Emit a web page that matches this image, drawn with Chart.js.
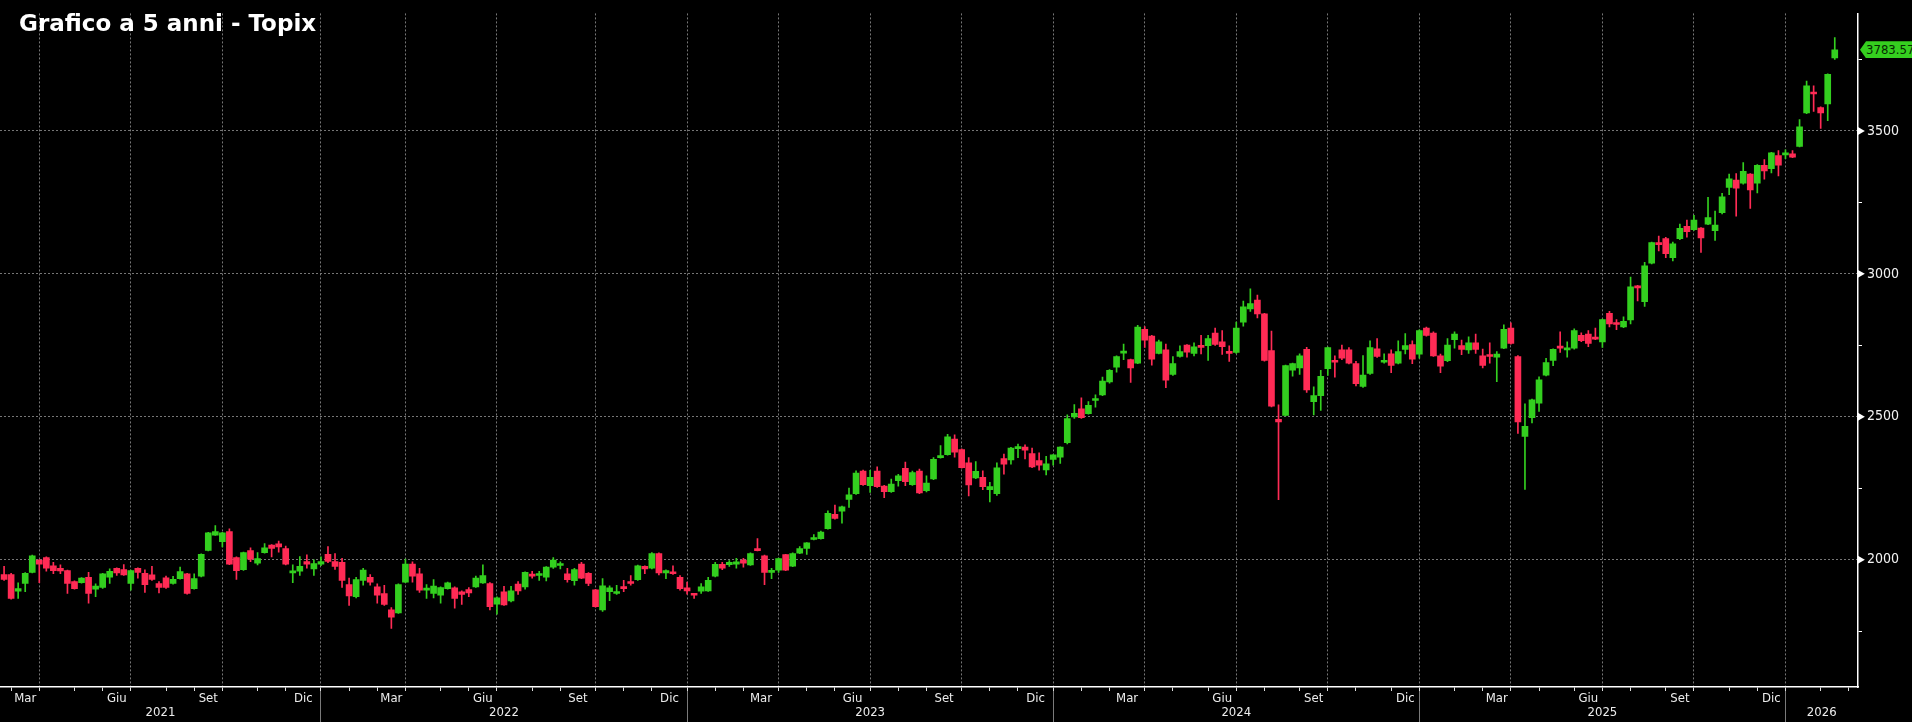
<!DOCTYPE html>
<html>
<head>
<meta charset="utf-8">
<script src="https://cdn.jsdelivr.net/npm/chart.js@4.4.1/dist/chart.umd.min.js"></script>
<style>
  html, body { margin: 0; padding: 0; background: #000; }
  #wrap { position: relative; width: 1912px; height: 722px; overflow: hidden; background: #000; }
  #c { position: absolute; left: 0; top: 0; }
  #title { position: absolute; left: 19px; top: 12px; font: bold 23px 'DejaVu Sans', Verdana, sans-serif; line-height: 23px; color: #fff; white-space: nowrap; }
  #last { position: absolute; left: 1860px; height: 17px; padding-left: 6px; padding-right: 6px; background: #35cf1f; color: #062a02;
          font: 13px 'DejaVu Sans Condensed', 'Liberation Sans Narrow', sans-serif; line-height: 17px; white-space: nowrap;
          clip-path: polygon(0 50%, 6px 0, 100% 0, 100% 100%, 6px 100%); }
</style>
</head>
<body>
<div id="wrap">
  <canvas id="c" width="1912" height="722"></canvas>
  <div id="title">Grafico a 5 anni - Topix</div>
  <div id="last"></div>
</div>
<script>
// ---------- DATA (weekly candles, Topix, week ending Friday from 19 Feb 2021) ----------
const firstWeekEnding = '2021-02-19';

const opens = [
1948,1948,1890,1917,1956,1999,2008,1979,1970,1962,
1924,1920,1939,1897,1903,1939,1970,1966,1917,1970,
1953,1947,1917,1937,1917,1934,1951,1899,1943,2033,
2086,2063,2099,2008,1965,2032,1988,2025,2051,2056,
2039,1954,1960,1994,1968,1985,2019,1994,1991,1913,
1871,1928,1939,1905,1882,1825,1814,1922,1985,1951,
1894,1882,1876,1899,1902,1888,1896,1905,1919,1917,
1845,1888,1856,1915,1905,1948,1945,1939,1974,1980,
1951,1927,1985,1953,1895,1825,1888,1882,1906,1920,
1930,1977,1971,2022,1954,1953,1939,1902,1882,1890,
1891,1943,1984,1983,1985,1999,1982,2034,2014,1956,
1964,2018,1978,2023,2040,2071,2074,2109,2159,2170,
2211,2231,2310,2259,2310,2258,2238,2277,2320,2263,
2310,2242,2283,2357,2368,2422,2385,2339,2286,2288,
2245,2231,2354,2349,2389,2394,2371,2347,2314,2351,
2359,2410,2500,2528,2511,2557,2577,2622,2674,2723,
2700,2688,2806,2782,2722,2734,2648,2711,2751,2722,
2748,2749,2793,2762,2725,2725,2831,2877,2908,2860,
2732,2491,2505,2663,2671,2736,2553,2574,2668,2696,
2734,2734,2686,2606,2652,2738,2691,2720,2688,2736,
2753,2719,2810,2793,2713,2696,2770,2749,2734,2759,
2713,2713,2709,2740,2810,2711,2431,2497,2548,2646,
2697,2745,2734,2740,2785,2789,2776,2762,2862,2829,
2814,2839,2956,2903,3037,3109,3123,3057,3123,3166,
3155,3160,3174,3151,3214,3302,3328,3317,3349,3317,
3380,3368,3414,3416,3420,3446,3563,3634,3582,3594,
3755
];

const highs = [
1977,1953,1919,1955,2016,2001,2010,1991,1982,1964,
1926,1938,1956,1916,1953,1968,1972,1983,1964,1972,
1965,1977,1924,1943,1942,1974,1953,1951,2021,2096,
2120,2096,2108,2010,2027,2042,2025,2057,2053,2065,
2048,1982,2011,2017,2000,2010,2046,2022,2005,1936,
1939,1970,1948,1916,1911,1833,1916,2002,1993,1970,
1913,1931,1905,1922,1905,1891,1903,1943,1982,1920,
1870,1907,1907,1924,1958,1960,1960,1976,2008,1993,
1970,1970,1991,1955,1897,1934,1909,1911,1928,1945,
1981,1979,2025,2024,1965,1979,1945,1922,1883,1917,
1939,1991,1991,1997,2005,2005,2024,2074,2016,1970,
2006,2019,2024,2046,2060,2088,2100,2171,2191,2188,
2251,2311,2314,2313,2325,2260,2282,2299,2342,2310,
2317,2294,2357,2399,2439,2437,2388,2357,2343,2311,
2271,2339,2370,2393,2405,2402,2391,2374,2362,2368,
2395,2507,2543,2566,2553,2577,2639,2665,2713,2754,
2702,2820,2816,2785,2768,2754,2711,2748,2753,2759,
2785,2785,2810,2802,2748,2831,2905,2948,2926,2862,
2800,2542,2681,2688,2720,2743,2605,2663,2744,2713,
2751,2742,2694,2714,2766,2774,2720,2734,2766,2791,
2766,2804,2814,2797,2719,2774,2797,2768,2780,2789,
2737,2759,2728,2822,2829,2714,2545,2562,2640,2705,
2738,2797,2762,2808,2794,2802,2810,2842,2869,2840,
2850,2989,2960,3040,3111,3132,3128,3111,3174,3188,
3205,3162,3268,3220,3282,3349,3351,3389,3351,3382,
3400,3425,3431,3434,3431,3540,3674,3658,3584,3700,
3826
];

const lows = [
1928,1862,1865,1888,1954,1920,1960,1951,1951,1882,
1897,1918,1848,1871,1900,1917,1945,1945,1894,1936,
1886,1928,1884,1900,1915,1932,1880,1897,1940,2031,
2085,2045,1983,1931,1963,1993,1982,2023,2010,2027,
1982,1920,1945,1971,1945,1979,1990,1966,1903,1840,
1867,1911,1911,1848,1840,1760,1812,1920,1922,1886,
1865,1867,1848,1897,1831,1844,1871,1903,1917,1825,
1810,1840,1853,1879,1897,1936,1928,1926,1970,1968,
1922,1911,1934,1909,1834,1819,1857,1879,1888,1911,
1928,1951,1968,1947,1934,1949,1894,1880,1865,1882,
1889,1940,1965,1977,1971,1974,1980,2031,1913,1934,
1956,1962,1976,2021,2019,2069,2072,2107,2142,2128,
2183,2229,2260,2236,2253,2217,2236,2257,2259,2260,
2231,2237,2280,2355,2366,2359,2320,2223,2284,2245,
2202,2225,2299,2334,2357,2353,2322,2313,2297,2331,
2337,2405,2494,2494,2509,2534,2574,2618,2656,2700,
2620,2686,2743,2681,2720,2602,2645,2709,2709,2713,
2720,2697,2750,2718,2694,2722,2817,2869,2846,2695,
2535,2210,2503,2642,2648,2585,2507,2522,2645,2639,
2700,2685,2608,2603,2648,2708,2688,2654,2685,2720,
2686,2705,2782,2711,2654,2693,2740,2717,2722,2722,
2671,2688,2623,2738,2754,2442,2246,2479,2519,2643,
2679,2725,2709,2737,2763,2745,2770,2743,2814,2805,
2812,2825,2905,2886,3035,3080,3057,3045,3120,3128,
3152,3075,3172,3117,3210,3277,3202,3314,3229,3283,
3331,3353,3343,3403,3406,3444,3560,3568,3509,3536,
3750
];

const closes = [
1931,1865,1899,1953,2014,1985,1971,1962,1961,1917,
1899,1936,1882,1908,1951,1960,1954,1947,1962,1956,
1913,1931,1903,1903,1932,1959,1882,1934,2019,2094,
2099,2094,1985,1962,2025,2002,2004,2042,2040,2045,
1985,1958,1977,1985,1987,1994,1994,1977,1928,1874,
1931,1964,1922,1876,1844,1799,1913,1985,1943,1894,
1897,1908,1903,1919,1865,1879,1884,1936,1945,1836,
1867,1842,1891,1891,1956,1943,1951,1974,1999,1983,
1930,1966,1936,1917,1836,1909,1902,1886,1899,1917,
1979,1968,2022,1954,1962,1951,1899,1891,1876,1905,
1928,1984,1971,1991,1993,1988,2022,2032,1956,1961,
2004,1964,2022,2039,2059,2076,2097,2162,2145,2185,
2227,2303,2263,2288,2256,2238,2265,2294,2273,2305,
2234,2268,2351,2362,2430,2376,2322,2262,2309,2256,
2256,2322,2334,2391,2393,2383,2325,2331,2336,2367,
2394,2494,2512,2497,2540,2560,2625,2663,2711,2726,
2671,2814,2768,2702,2762,2628,2686,2728,2726,2745,
2743,2774,2753,2745,2722,2810,2885,2896,2860,2697,
2537,2482,2679,2686,2713,2594,2574,2642,2742,2691,
2705,2688,2616,2646,2742,2711,2697,2680,2728,2749,
2702,2802,2785,2713,2677,2751,2789,2736,2759,2736,
2680,2711,2719,2806,2757,2482,2467,2559,2629,2690,
2736,2740,2740,2802,2766,2757,2772,2840,2825,2823,
2834,2955,2951,3028,3109,3102,3071,3105,3159,3148,
3188,3126,3197,3171,3269,3332,3300,3359,3294,3380,
3360,3423,3380,3423,3408,3514,3658,3629,3563,3698,
3783.57
];

const monthNames = ['Gen','Feb','Mar','Apr','Mag','Giu','Lug','Ago','Set','Ott','Nov','Dic'];
const labeledMonths = ['Mar','Giu','Set','Dic'];
const yTickValues = [1750, 2000, 2250, 2500, 2750, 3000, 3250, 3500, 3750];
const yTickLabels = ['2000', '2500', '3000', '3500'];

// ---------- STYLE ----------
const GREEN = '#33cf1f', RED = '#ff2b55', GRID = '#767676', SEP = '#7a7a7a', TRANSP = 'rgba(0,0,0,0)';
const FONT = "'DejaVu Sans Condensed', 'Liberation Sans Narrow', sans-serif";
const X_MIN = -0.58, X_MAX = 263.3, Y_MIN = 1555, Y_MAX = 3911;
const MARKER_X = X_MAX + 0.32;   // just right of the value-axis line
const MARKER_R = 4.6;

// ---------- derived axis structure (from the week-ending dates) ----------
const DAY = 86400000;
const t0 = Date.parse(firstWeekEnding + 'T00:00:00Z');
const weekEnd = i => new Date(t0 + i * 7 * DAY);
const nSlots = Math.floor(X_MAX) + 1;
const bounds = [];
for (let i = 0; i < nSlots; i++) {
  const a = weekEnd(i), b = weekEnd(i + 1);
  if (a.getUTCMonth() !== b.getUTCMonth()) bounds.push({ idx: i, month: b.getUTCMonth(), year: b.getUTCFullYear() });
}
const mainTicks = bounds.map(b => ({ value: b.idx, _lbl: '', _q: b.month % 3 === 0 }));
const yearBounds = bounds.filter(b => b.month === 0);
const monthLabelTicks = [];
for (let j = 0; j + 1 < bounds.length; j++) {
  const name = monthNames[bounds[j].month];
  if (labeledMonths.includes(name)) monthLabelTicks.push({ value: (bounds[j].idx + bounds[j + 1].idx) / 2, _lbl: name });
}
const sepTicks = yearBounds.map(b => ({ value: b.idx, _lbl: '', _sep: true }));
const yearTicks = [];
{
  const startYear = weekEnd(0).getUTCFullYear();
  const edges = [X_MIN, ...yearBounds.map(b => b.idx), X_MAX];
  for (let j = 0; j + 1 < edges.length; j++) {
    yearTicks.push({ value: (edges[j] + edges[j + 1]) / 2, _lbl: String(startYear + j) });
  }
}
const byVal = (a, b) => a.value - b.value;
const monthRow = [...monthLabelTicks, ...sepTicks.map(t => ({ ...t }))].sort(byVal);
const yearRow = [...yearTicks, ...sepTicks.map(t => ({ ...t }))].sort(byVal);

const bodyData = opens.map((o, i) => ({ x: i, y: [o, closes[i]] }));
const wickData = lows.map((l, i) => ({ x: i, y: [l, highs[i]] }));
const markerData = yTickLabels.map(v => ({ x: MARKER_X, y: Number(v), r: MARKER_R }));
const candleColor = ctx => (closes[ctx.dataIndex] >= opens[ctx.dataIndex] ? GREEN : RED);

const setTicks = list => axis => { axis.ticks = list.map(t => ({ ...t })); };
const lblCb = (v, i, ticks) => (ticks[i] && ticks[i]._lbl) || '';

const tagPlugin = {
  id: 'lastTag',
  afterRender(chart) {
    const last = closes[closes.length - 1];
    const y = chart.scales.y.getPixelForValue(last);
    const el = document.getElementById('last');
    el.textContent = last.toFixed(2);
    el.style.top = (y - 8.5) + 'px';
    el.style.left = (chart.chartArea.right + 2) + 'px';
  }
};

new Chart(document.getElementById('c'), {
  type: 'bar',
  data: {
    datasets: [
      { label: 'Corpo', data: bodyData, backgroundColor: candleColor, borderWidth: 0, barThickness: 6, minBarLength: 2, grouped: false, order: 1 },
      { label: 'Ombra', data: wickData, backgroundColor: candleColor, borderWidth: 0, barThickness: 1, grouped: false, order: 2 },
      { type: 'bubble', label: 'Tacche asse', data: markerData, clip: false, order: 0,
        pointStyle: 'triangle', rotation: 90, backgroundColor: '#ffffff', borderWidth: 0, hoverRadius: 0 }
    ]
  },
  plugins: [tagPlugin],
  options: {
    responsive: false,
    animation: false,
    devicePixelRatio: 1,
    layout: { padding: 0, autoPadding: false },
    plugins: { legend: { display: false }, tooltip: { enabled: false }, title: { display: false } },
    scales: {
      x: {
        type: 'linear', position: 'bottom', weight: 0, min: X_MIN, max: X_MAX, offset: false,
        afterBuildTicks: setTicks(mainTicks),
        afterFit: s => { s.height = 4; },
        ticks: { display: false, autoSkip: false },
        grid: { offset: false, drawOnChartArea: true, drawTicks: true, tickLength: 4, lineWidth: 1,
                color: ctx => (ctx.tick && ctx.tick._q ? GRID : TRANSP), tickColor: '#dddddd', tickWidth: 1 },
        border: { display: true, color: '#ffffff', width: 1.5, dash: [2, 2] }
      },
      xm: {
        type: 'linear', axis: 'x', position: 'bottom', weight: 1, min: X_MIN, max: X_MAX, offset: false,
        afterBuildTicks: setTicks(monthRow),
        afterFit: s => { s.height = 14; },
        ticks: { callback: lblCb, autoSkip: false, maxRotation: 0, minRotation: 0, padding: -14, color: '#ececec', font: { family: FONT, size: 13 } },
        grid: { offset: false, drawOnChartArea: false, drawTicks: true, tickLength: 14, color: TRANSP,
                tickColor: ctx => (ctx.tick && ctx.tick._sep ? SEP : TRANSP), tickWidth: 1 },
        border: { display: false }
      },
      xy: {
        type: 'linear', axis: 'x', position: 'bottom', weight: 2, min: X_MIN, max: X_MAX, offset: false,
        afterBuildTicks: setTicks(yearRow),
        afterFit: s => { s.height = 17; },
        ticks: { callback: lblCb, autoSkip: false, maxRotation: 0, minRotation: 0, padding: -17.5, color: '#ececec', font: { family: FONT, size: 13 } },
        grid: { offset: false, drawOnChartArea: false, drawTicks: true, tickLength: 17, color: TRANSP,
                tickColor: ctx => (ctx.tick && ctx.tick._sep ? SEP : TRANSP), tickWidth: 1 },
        border: { display: false }
      },
      y: {
        type: 'linear', position: 'right', min: Y_MIN, max: Y_MAX, beginAtZero: false,
        afterBuildTicks: axis => { axis.ticks = yTickValues.map(v => ({ value: v })); },
        afterFit: s => { s.width = 54; },
        ticks: { autoSkip: false, padding: 5, color: '#f2f2f2', font: { family: FONT, size: 14 },
                 callback: v => (yTickLabels.includes(String(v)) ? String(v) : '') },
        grid: { drawOnChartArea: true, drawTicks: true, tickLength: 4, lineWidth: 1,
                color: ctx => (ctx.tick && yTickLabels.includes(String(ctx.tick.value)) ? GRID : TRANSP),
                tickColor: '#ffffff', tickWidth: 1 },
        border: { display: true, color: '#ffffff', width: 1.5, dash: [2, 2] }
      }
    }
  }
});
</script>
</body>
</html>
